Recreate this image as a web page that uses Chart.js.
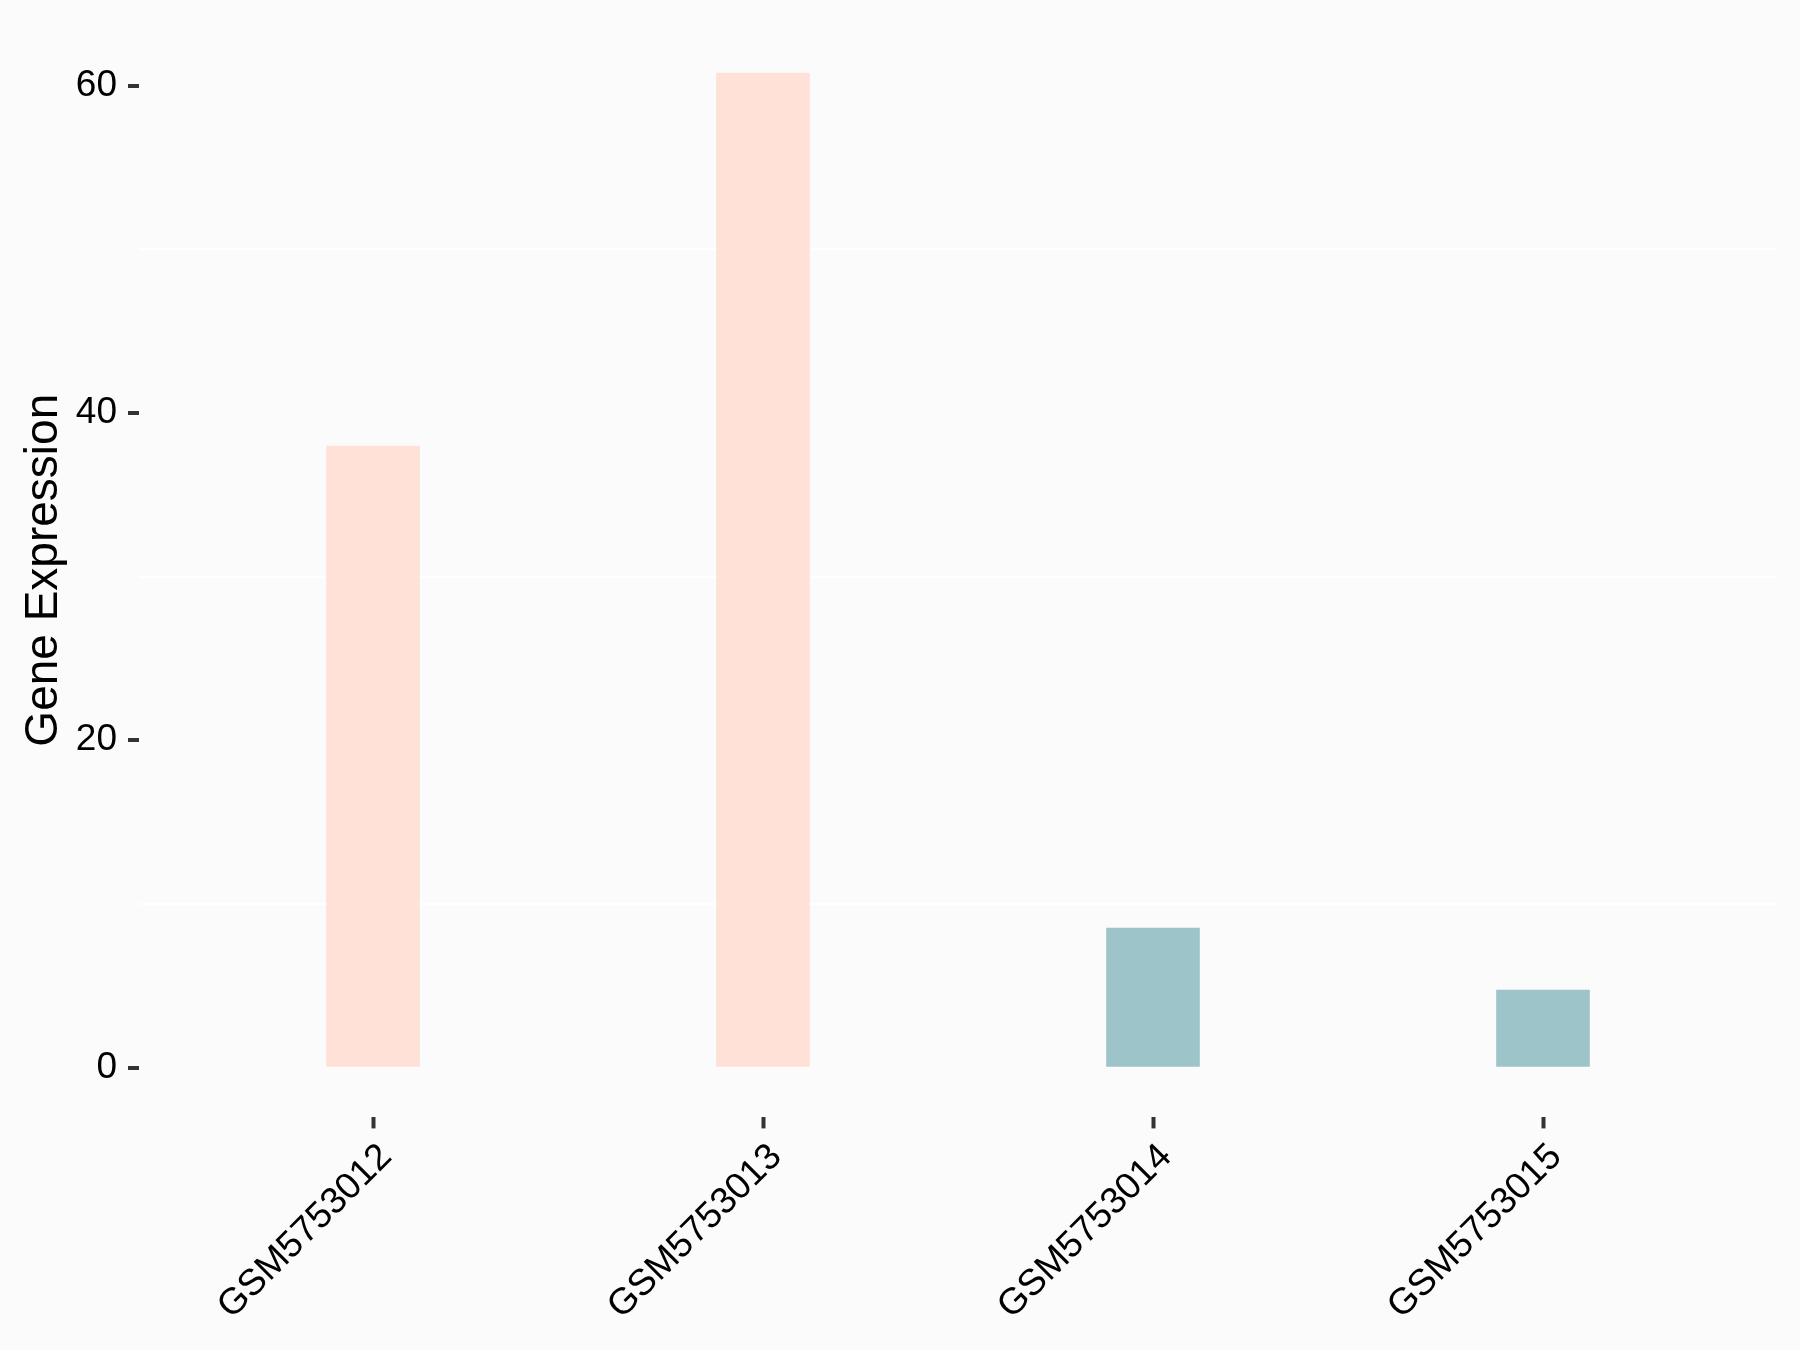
<!DOCTYPE html>
<html>
<head>
<meta charset="utf-8">
<script src="https://cdn.jsdelivr.net/npm/chart.js@4.4.1/dist/chart.umd.min.js"></script>
<style>
    html, body { margin: 0; padding: 0; background: #FBFBFB; }
    #wrap { width: 1800px; height: 1350px; }
</style>
</head>
<body>
<div id="wrap"><canvas id="exprChart" width="1800" height="1350"></canvas></div>
<script>
// values
const samples = ['GSM5753012', 'GSM5753013', 'GSM5753014', 'GSM5753015'];
const expression = [38.0, 60.78, 8.55, 4.76];
const groupColors = ['#FFE1D7', '#FFE1D7', '#9DC4C8', '#9DC4C8'];
const yTicks = [0, 20, 40, 60];

const fontFamily = '"Liberation Sans", Arial, sans-serif';
const topVal = Math.max(...expression);

document.addEventListener('DOMContentLoaded', function() {
    const ctx = document.getElementById('exprChart').getContext('2d');

    const bgPlugin = {
        id: 'bg',
        beforeDraw(chart) {
            const c = chart.ctx;
            c.save();
            c.fillStyle = '#FBFBFB';
            c.fillRect(0, 0, chart.width, chart.height);
            c.restore();
        }
    };

    new Chart(ctx, {
        type: 'bar',
        data: {
            datasets: [{
                data: expression.map((v, i) => ({ x: i, y: v })),
                backgroundColor: groupColors,
                borderWidth: 0,
                barPercentage: 0.24,
                categoryPercentage: 1
            }]
        },
        plugins: [bgPlugin],
        options: {
            responsive: false,
            animation: false,
            layout: { padding: { left: 0, right: 23, top: 23, bottom: 0 } },
            plugins: {
                legend: { display: false },
                tooltip: { enabled: false }
            },
            scales: {
                x: {
                    type: 'linear',
                    offset: false,
                    min: -0.6,
                    max: samples.length - 1 + 0.6,
                    afterFit: s => {
                        s.height = 1350 - 1117.4;
                        s.paddingLeft = 0;
                        s.paddingRight = 0;
                    },
                    afterBuildTicks: s => { s.ticks = samples.map((_, i) => ({ value: i })); },
                    border: { display: false },
                    grid: {
                        offset: false,
                        drawOnChartArea: false,
                        drawTicks: true,
                        tickLength: 11,
                        tickWidth: 4,
                        tickColor: '#333333'
                    },
                    ticks: {
                        autoSkip: false,
                        maxRotation: 45,
                        minRotation: 45,
                        padding: 7,
                        labelOffset: 13,
                        color: '#000000',
                        font: { family: fontFamily, size: 37 },
                        callback: v => samples[v]
                    }
                },
                y: {
                    min: -0.05 * topVal,
                    max: 1.05 * topVal,
                    afterFit: s => {
                        s.width = 139;
                        s.paddingTop = 0;
                        s.paddingBottom = 0;
                    },
                    afterBuildTicks: s => {
                        const t = [];
                        for (let v = 0; v <= 60; v += 10) t.push({ value: v });
                        s.ticks = t;
                    },
                    border: { display: false },
                    grid: {
                        lineWidth: 2,
                        color: c => yTicks.includes(c.tick.value) ? 'rgba(0,0,0,0)' : '#FFFFFF',
                        tickLength: 11,
                        tickWidth: 4,
                        tickColor: c => yTicks.includes(c.tick.value) ? '#333333' : 'rgba(0,0,0,0)'
                    },
                    ticks: {
                        padding: 11,
                        color: '#000000',
                        font: { family: fontFamily, size: 37 },
                        callback: v => yTicks.includes(v) ? v : ''
                    },
                    title: {
                        display: true,
                        text: 'Gene Expression',
                        color: '#000000',
                        padding: { top: 17, bottom: 0 },
                        font: { family: fontFamily, size: 46, lineHeight: 1.2 }
                    }
                }
            }
        }
    });
});
</script>
</body>
</html>
